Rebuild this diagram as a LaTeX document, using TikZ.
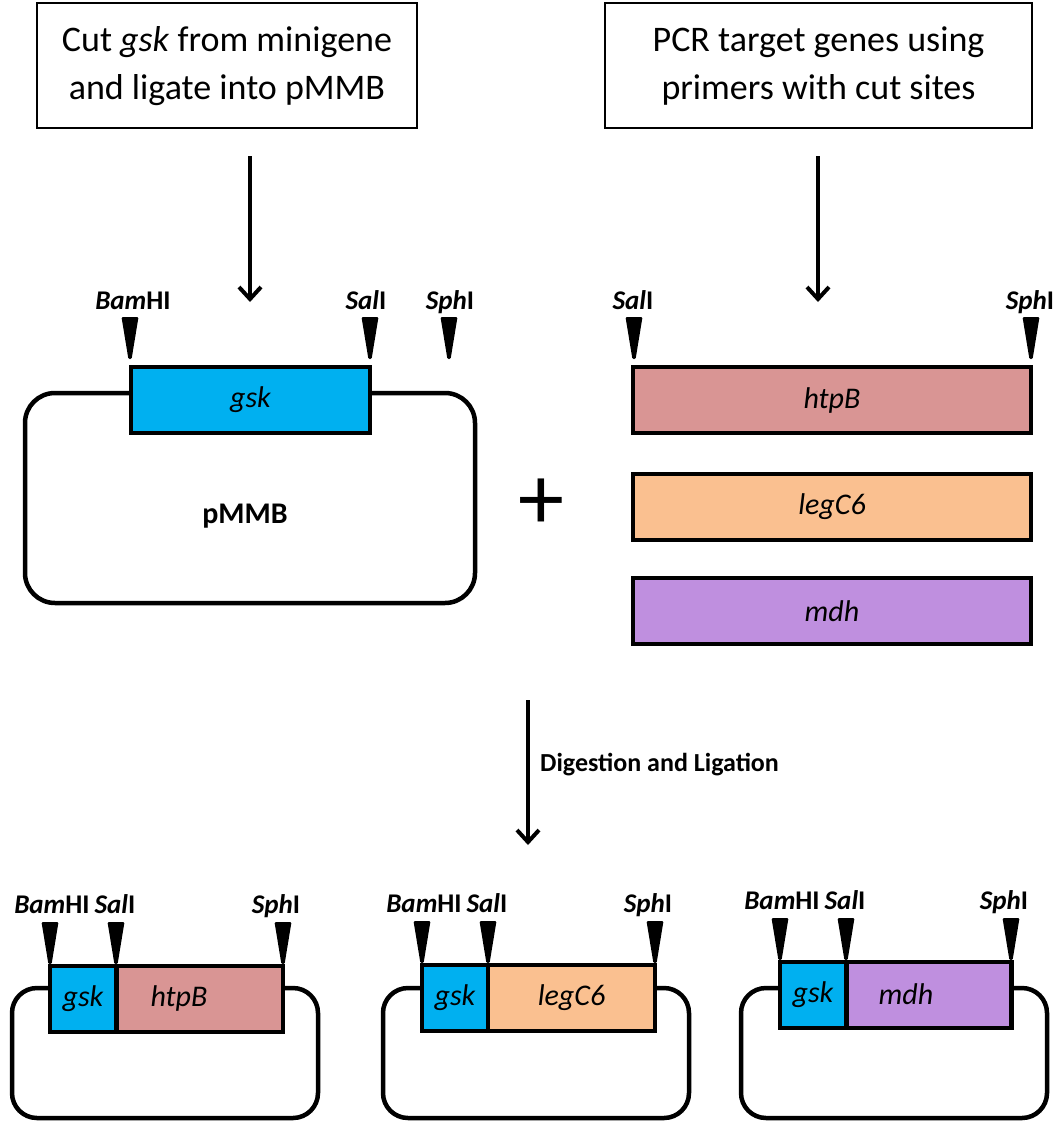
\documentclass[tikz,border=0pt]{standalone}
\usepackage{fontspec}
\setmainfont{Carlito}
\usetikzlibrary{arrows.meta}
\definecolor{gskc}{HTML}{00B0F0}
\definecolor{htpc}{HTML}{D99594}
\definecolor{legc}{HTML}{FAC090}
\definecolor{mdhc}{HTML}{BF8FDF}
\begin{document}
\begin{tikzpicture}[x=1pt,y=-1pt,
  stepbox/.style={draw, line width=2pt, align=center, inner sep=0pt,
    font=\fontsize{36}{48}\selectfont},
  genebox/.style={draw, line width=4.5pt, inner sep=0pt,
    font=\fontsize{30}{30}\selectfont\itshape},
  plasmid/.style={draw, line width=4.5pt, rounded corners=#1},
  plasmid/.default=30pt,
  sitelabel/.style={anchor=base, inner sep=0pt,
    font=\fontsize{27}{27}\selectfont\bfseries},
  cutmark/.pic={\fill[rounded corners=1.2pt] (-8.5,0) -- (8.5,0) -- (1.6,42) -- (-1.6,42) -- cycle;},
  arr/.style={line width=4pt, -{Straight Barb[length=12pt,width=22pt,line width=4pt]}}
]
\useasboundingbox (0,0) rectangle (1062,1121);

% top step boxes
\node[stepbox, minimum width=380pt, minimum height=125pt] (s1) at (227,66)
  {Cut \textit{gsk} from minigene\\ and ligate into pMMB};
\node[stepbox, minimum width=427pt, minimum height=125pt] (s2) at (818.5,66)
  {PCR target genes using\\ primers with cut sites};

\coordinate (a1s) at (250,156); \coordinate (a1e) at (250,302);
\coordinate (a2s) at (818,156); \coordinate (a2e) at (818,302);
\draw[arr] (a1s) -- (a1e);
\draw[arr] (a2s) -- (a2e);

% pMMB with gsk
\node[plasmid, minimum width=450pt, minimum height=210pt] (p0) at (250,498) {};
\node[genebox, fill=gskc, minimum width=239pt, minimum height=66pt] (g0) at (250.5,400) {gsk};
\node[inner sep=0pt, font=\fontsize{30}{30}\selectfont\bfseries] (lp0) at (245,516) {pMMB};
\pic at (130,317) {cutmark};
\pic at (370,317) {cutmark};
\pic at (449,317) {cutmark};
\node[sitelabel] (b0) at (133,309) {\textit{Bam}HI};
\node[sitelabel] (sa0) at (366,309) {\textit{Sal}I};
\node[sitelabel] (sp0) at (450,309) {\textit{Sph}I};

% plus
\node[inner sep=0pt, font=\fontsize{92}{92}\selectfont] (plus) at (541,504) {+};

% PCR products
\node[genebox, fill=htpc, minimum width=398pt, minimum height=66pt] (h1) at (832,400) {htpB};
\node[genebox, fill=legc, minimum width=398pt, minimum height=66pt] (l1) at (832,507) {legC6};
\node[genebox, fill=mdhc, minimum width=398pt, minimum height=66pt] (m1) at (832,611) {mdh};
\pic at (634,317) {cutmark};
\pic at (1031,317) {cutmark};
\node[sitelabel] (sa1) at (633,309) {\textit{Sal}I};
\node[sitelabel] (sp1) at (1030,309) {\textit{Sph}I};

% digestion arrow
\coordinate (a3s) at (528,700); \coordinate (a3e) at (528,845);
\draw[arr] (a3s) -- (a3e);
\node[anchor=base west, inner sep=0pt, font=\fontsize{26}{26}\selectfont\bfseries] (dl) at (540,771) {Digestion and Ligation};

% bottom plasmids
\node[plasmid=25pt, minimum width=306pt, minimum height=130pt] (pb1) at (165,1053) {};
\node[genebox, fill=htpc, minimum width=166pt, minimum height=66pt] (hb) at (200,999) {};
\node[genebox, fill=gskc, minimum width=66pt, minimum height=66pt] (gb1) at (83,999) {gsk};
\node[inner sep=0pt, font=\fontsize{30}{30}\selectfont\itshape] (hbl) at (179,998) {htpB};
\pic at (50,922) {cutmark};
\pic at (116,922) {cutmark};
\pic at (283,922) {cutmark};
\node[sitelabel] (bb1) at (52,913) {\textit{Bam}HI};
\node[sitelabel] (sab1) at (115,913) {\textit{Sal}I};
\node[sitelabel] (spb1) at (276,913) {\textit{Sph}I};

\node[plasmid=25pt, minimum width=306pt, minimum height=130pt] (pb2) at (536,1053) {};
\node[genebox, fill=legc, minimum width=167pt, minimum height=66pt] (lb) at (571.5,998) {legC6};
\node[genebox, fill=gskc, minimum width=66pt, minimum height=66pt] (gb2) at (455,998) {gsk};
\pic at (422,921) {cutmark};
\pic at (488,921) {cutmark};
\pic at (655,921) {cutmark};
\node[sitelabel] (bb2) at (424,912) {\textit{Bam}HI};
\node[sitelabel] (sab2) at (487,912) {\textit{Sal}I};
\node[sitelabel] (spb2) at (648,912) {\textit{Sph}I};

\node[plasmid=25pt, minimum width=306pt, minimum height=130pt] (pb3) at (894,1053) {};
\node[genebox, fill=mdhc, minimum width=165pt, minimum height=66pt] (mb) at (929,995) {};
\node[genebox, fill=gskc, minimum width=66pt, minimum height=66pt] (gb3) at (813,995) {gsk};
\node[inner sep=0pt, font=\fontsize{30}{30}\selectfont\itshape] (mbl) at (906,994) {mdh};
\pic at (780,918) {cutmark};
\pic at (846,918) {cutmark};
\pic at (1011,918) {cutmark};
\node[sitelabel] (bb3) at (782,909) {\textit{Bam}HI};
\node[sitelabel] (sab3) at (845,909) {\textit{Sal}I};
\node[sitelabel] (spb3) at (1004,909) {\textit{Sph}I};
\end{tikzpicture}
\end{document}
